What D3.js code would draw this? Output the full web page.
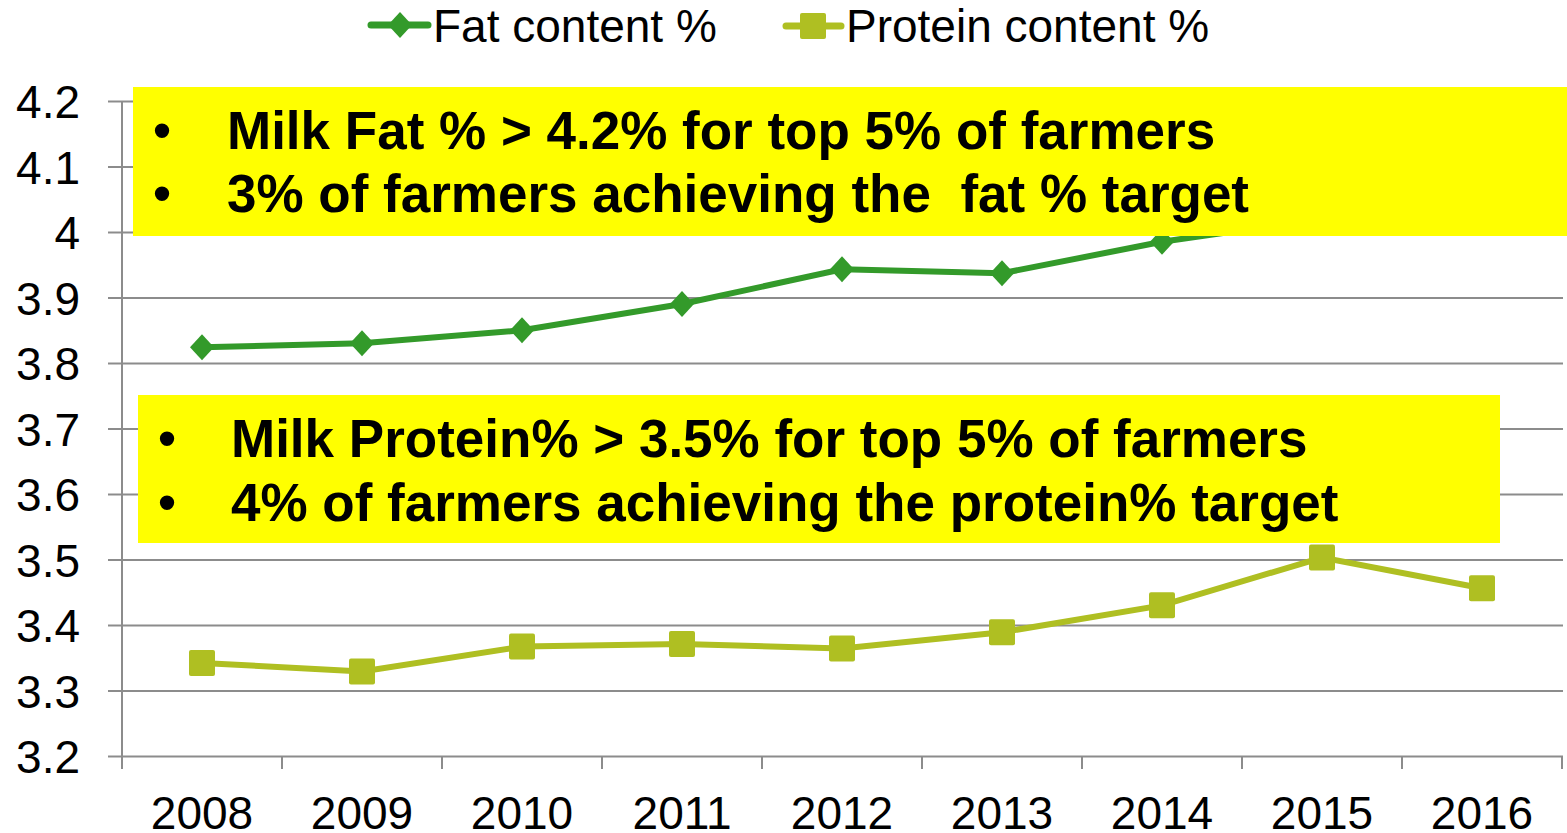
<!DOCTYPE html>
<html>
<head>
<meta charset="utf-8">
<script src="https://cdn.jsdelivr.net/npm/d3@7"></script>
<style>
  body { margin: 0; background: #fff; }
  svg { display: block; font-family: Arial, "Liberation Sans", sans-serif; }
</style>
</head>
<body>
<svg id="chart" width="1567" height="833"></svg>
<script>
// data
let years = ["2008", "2009", "2010", "2011", "2012", "2013", "2014", "2015", "2016"];
let fatValues = [3.824, 3.830, 3.850, 3.890, 3.943, 3.937, 3.985, 4.02, 4.05];
let proteinValues = [3.342, 3.329, 3.367, 3.371, 3.364, 3.389, 3.430, 3.503, 3.456];
let yTicks = [3.2, 3.3, 3.4, 3.5, 3.6, 3.7, 3.8, 3.9, 4, 4.1, 4.2];
let seriesNames = ["Fat content %", "Protein content %"];
let fatNotes = ["Milk Fat % > 4.2% for top 5% of farmers", "3% of farmers achieving the  fat % target"];
let proteinNotes = ["Milk Protein% > 3.5% for top 5% of farmers", "4% of farmers achieving the protein% target"];

let fatColor = "#339a2a";
let proteinColor = "#afbf22";
let gridColor = "#8c8c8c";
let boxColor = "#ffff00";

let plotLeft = 122, plotRight = 1563, plotTop = 101, plotBottom = 756;

let svg = d3.select("#chart");

let x = d3.scaleBand().domain(years).range([plotLeft, plotRight - 1]).padding(0);
let y = d3.scaleLinear().domain([3.2, 4.2]).range([plotBottom, plotTop]);

// gridlines
let grid = svg.append("g")
  .attr("transform", "translate(" + plotLeft + ",0)")
  .call(d3.axisLeft(y).tickValues(yTicks).tickSize(-(plotRight - plotLeft)).tickFormat(""));
grid.select(".domain").remove();
grid.selectAll("line").attr("stroke", gridColor).attr("stroke-width", 2);

// y axis ticks + labels
let yAxis = svg.append("g")
  .attr("transform", "translate(" + plotLeft + ",0)")
  .call(d3.axisLeft(y).tickValues(yTicks).tickSize(14).tickPadding(28)
    .tickFormat(function(d) { return d3.format("")(+d.toFixed(1)); }));
yAxis.select(".domain").remove();
yAxis.selectAll("line").attr("stroke", gridColor).attr("stroke-width", 2);
yAxis.selectAll("text")
  .style("font-size", "46px")
  .style("fill", "#000")
  .attr("dy", "0.36em");

// vertical axis line
svg.append("line")
  .attr("x1", plotLeft).attr("x2", plotLeft)
  .attr("y1", plotTop).attr("y2", plotBottom + 13)
  .attr("stroke", gridColor).attr("stroke-width", 2);

// x axis category boundary ticks
let bounds = years.map(function(d) { return x(d); }).concat([x(years[years.length - 1]) + x.bandwidth()]);
svg.selectAll(".xTick")
  .data(bounds)
  .enter()
  .append("line")
    .attr("x1", function(d) { return d; })
    .attr("x2", function(d) { return d; })
    .attr("y1", plotBottom)
    .attr("y2", plotBottom + 13)
    .attr("stroke", gridColor)
    .attr("stroke-width", 2);

// x labels
let xAxis = svg.append("g")
  .attr("transform", "translate(0," + plotBottom + ")")
  .call(d3.axisBottom(x).tickSize(0).tickPadding(40));
xAxis.select(".domain").remove();
xAxis.selectAll("text")
  .style("font-size", "46px")
  .style("fill", "#000");

// lines
let line = d3.line()
  .x(function(d, i) { return x(years[i]) + x.bandwidth() / 2; })
  .y(function(d) { return y(d); });

svg.append("path")
  .datum(fatValues)
  .attr("d", line)
  .attr("fill", "none")
  .attr("stroke", fatColor)
  .attr("stroke-width", 6);

svg.append("path")
  .datum(proteinValues)
  .attr("d", line)
  .attr("fill", "none")
  .attr("stroke", proteinColor)
  .attr("stroke-width", 6);

let diamond = "M0,-13L12,0L0,13L-12,0Z";

svg.selectAll(".fatMark")
  .data(fatValues)
  .enter()
  .append("path")
    .attr("d", diamond)
    .attr("transform", function(d, i) { return "translate(" + (x(years[i]) + x.bandwidth() / 2) + "," + y(d) + ")"; })
    .attr("fill", fatColor);

svg.selectAll(".protMark")
  .data(proteinValues)
  .enter()
  .append("rect")
    .attr("x", function(d, i) { return x(years[i]) + x.bandwidth() / 2 - 13; })
    .attr("y", function(d) { return y(d) - 13; })
    .attr("width", 26)
    .attr("height", 26)
    .attr("rx", 2)
    .attr("fill", proteinColor);

// legend
let legend = svg.append("g");
legend.append("line")
  .attr("x1", 371).attr("x2", 428).attr("y1", 25).attr("y2", 25)
  .attr("stroke", fatColor).attr("stroke-width", 7).attr("stroke-linecap", "round");
legend.append("path")
  .attr("d", diamond)
  .attr("transform", "translate(400,25)")
  .attr("fill", fatColor);
legend.append("text")
  .attr("x", 433).attr("y", 42)
  .text(seriesNames[0])
  .style("font-size", "46px");

legend.append("line")
  .attr("x1", 786).attr("x2", 841).attr("y1", 26).attr("y2", 26)
  .attr("stroke", proteinColor).attr("stroke-width", 7).attr("stroke-linecap", "round");
legend.append("rect")
  .attr("x", 800).attr("y", 13).attr("width", 26).attr("height", 26).attr("rx", 2)
  .attr("fill", proteinColor);
legend.append("text")
  .attr("x", 846).attr("y", 42)
  .text(seriesNames[1])
  .style("font-size", "46px");

// yellow note boxes
function drawNote(bx, by, bw, bh, bulletX, textX, baselines, notes) {
  let g = svg.append("g");
  g.append("rect")
    .attr("x", bx).attr("y", by).attr("width", bw).attr("height", bh)
    .attr("fill", boxColor);
  g.selectAll(".bullet")
    .data(notes)
    .enter()
    .append("text")
      .attr("x", bulletX)
      .attr("y", function(d, i) { return baselines[i]; })
      .text("\u2022")
      .style("text-anchor", "middle")
      .style("font-size", "53px");
  g.selectAll(".note")
    .data(notes)
    .enter()
    .append("text")
      .attr("x", textX)
      .attr("y", function(d, i) { return baselines[i]; })
      .text(function(d) { return d; })
      .style("white-space", "pre")
      .style("font-weight", "bold")
      .style("font-size", "53px");
}

drawNote(133, 87, 1434, 149, 162, 227, [149, 212], fatNotes);
drawNote(138, 395, 1362, 148, 167, 231, [457, 521], proteinNotes);
</script>
</body>
</html>
